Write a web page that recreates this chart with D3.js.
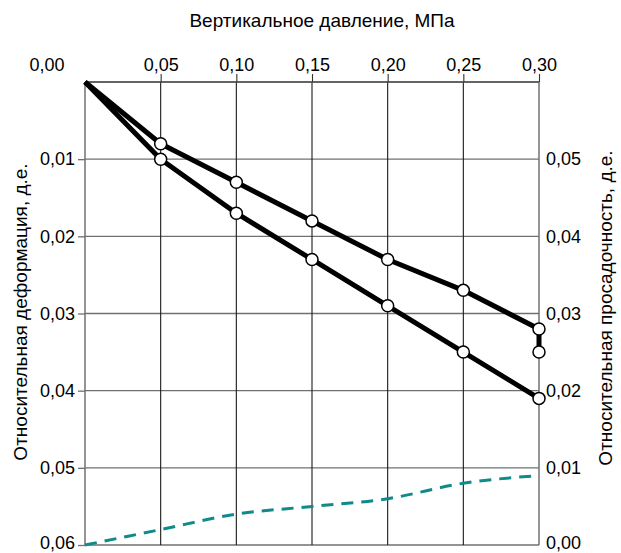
<!DOCTYPE html>
<html>
<head>
<meta charset="utf-8">
<script src="https://cdn.jsdelivr.net/npm/d3@7"></script>
<style>
  html, body { margin: 0; padding: 0; background: #fff; }
  svg { display: block; font-family: "Liberation Sans", Arial, sans-serif; }
</style>
</head>
<body>
<svg id="chart" width="621" height="553"></svg>
<script>
// Vertical pressure, MPa
const pressure = [0, 0.05, 0.10, 0.15, 0.20, 0.25, 0.30];
// Relative deformation at natural moisture (upper curve), then after soaking at 0.30
const deformNatural = [0, 0.008, 0.013, 0.018, 0.023, 0.027, 0.032];
const soakedAtEnd = 0.035;
// Relative deformation of soaked soil (lower curve)
const deformSoaked = [0, 0.010, 0.017, 0.023, 0.029, 0.035, 0.041];
// Relative subsidence (right axis)
const subsidence = [0, 0.002, 0.004, 0.005, 0.006, 0.008, 0.009];

const xTicks = [0.05, 0.10, 0.15, 0.20, 0.25, 0.30];
const leftTicks = [0.01, 0.02, 0.03, 0.04, 0.05, 0.06];
const rightTicks = [0.00, 0.01, 0.02, 0.03, 0.04, 0.05];

const m = { left: 85, right: 539, top: 82, bottom: 545 };
const tickFont = 18, titleFont = 19;
const svg = d3.select("#chart");

const x = d3.scaleLinear().domain([0, 0.30]).range([m.left, m.right]);
const yL = d3.scaleLinear().domain([0, 0.06]).range([m.top, m.bottom]);
const yR = d3.scaleLinear().domain([0, 0.06]).range([m.bottom, m.top]);
const fmt = v => d3.format(".2f")(v).replace(".", ",");

// Grid: horizontal (grey) and vertical (dark)
svg.append("g").selectAll("line")
  .data(d3.range(0, 7).map(i => i * 0.01))
  .join("line")
  .attr("x1", m.left).attr("x2", m.right)
  .attr("y1", d => yL(d)).attr("y2", d => yL(d))
  .attr("stroke", "#707070").attr("stroke-width", 1.3);

svg.append("g").selectAll("line")
  .data(xTicks.slice(0, -1))
  .join("line")
  .attr("x1", d => x(d)).attr("x2", d => x(d))
  .attr("y1", m.top).attr("y2", m.bottom)
  .attr("stroke", "#1a1a1a").attr("stroke-width", 1.1);

// Frame sides
svg.append("line").attr("x1", m.left).attr("x2", m.left)
  .attr("y1", m.top).attr("y2", m.bottom)
  .attr("stroke", "#707070").attr("stroke-width", 1.5);
svg.append("line").attr("x1", m.right).attr("x2", m.right)
  .attr("y1", m.top).attr("y2", m.bottom)
  .attr("stroke", "#707070").attr("stroke-width", 1.5);
svg.append("line").attr("x1", m.left).attr("x2", m.right)
  .attr("y1", m.top).attr("y2", m.top)
  .attr("stroke", "#555").attr("stroke-width", 1.3);

// Top axis
const topAxis = d3.axisTop(x).tickValues(xTicks).tickSize(8).tickSizeOuter(0).tickFormat(fmt);
const gTop = svg.append("g").attr("transform", `translate(0,${m.top})`).call(topAxis);
gTop.select(".domain").remove();
gTop.selectAll(".tick line").attr("stroke", "#333").attr("stroke-width", 1.1);
gTop.selectAll(".tick text").attr("fill", "#000").attr("font-size", tickFont)
  .attr("font-family", "'Liberation Sans', Arial, sans-serif");

// Left axis
const leftAxis = d3.axisLeft(yL).tickValues(leftTicks).tickSize(7).tickSizeOuter(0).tickFormat(fmt);
const gLeft = svg.append("g").attr("transform", `translate(${m.left},0)`).call(leftAxis);
gLeft.select(".domain").remove();
gLeft.selectAll(".tick line").attr("stroke", "#707070").attr("stroke-width", 1.3);
gLeft.selectAll(".tick text").attr("fill", "#000").attr("font-size", tickFont)
  .attr("font-family", "'Liberation Sans', Arial, sans-serif").attr("x", -10)
  .attr("dy", d => d === 0.06 ? "0.22em" : "0.32em");

// Corner label for zero
svg.append("text").attr("x", 47).attr("y", 71).attr("text-anchor", "middle")
  .attr("font-size", tickFont).text(fmt(0));

// Right axis
const rightAxis = d3.axisRight(yR).tickValues(rightTicks).tickSize(0).tickFormat(fmt);
const gRight = svg.append("g").attr("transform", `translate(${m.right},0)`).call(rightAxis);
gRight.select(".domain").remove();
gRight.selectAll(".tick text").attr("fill", "#000").attr("font-size", tickFont)
  .attr("font-family", "'Liberation Sans', Arial, sans-serif").attr("x", 7)
  .attr("dy", d => d === 0 ? "0.22em" : "0.32em");

// Titles
svg.append("text").attr("x", 322).attr("y", 27).attr("text-anchor", "middle")
  .attr("font-size", titleFont).text("Вертикальное давление, МПа");
svg.append("text").attr("transform", "translate(27,312) rotate(-90)")
  .attr("text-anchor", "middle").attr("font-size", titleFont)
  .text("Относительная деформация, д.е.");
svg.append("text").attr("transform", "translate(612,308) rotate(-90)")
  .attr("text-anchor", "middle").attr("font-size", titleFont)
  .text("Относительная просадочность, д.е.");

// Subsidence curve (dashed)
const lineR = d3.line().x((d, i) => x(pressure[i])).y(d => yR(d)).curve(d3.curveMonotoneX);
svg.append("path").datum(subsidence)
  .attr("d", lineR).attr("fill", "none")
  .attr("stroke", "#108a8a").attr("stroke-width", 3)
  .attr("stroke-dasharray", "12,8");

// Deformation curves
const upper = pressure.map((p, i) => [p, deformNatural[i]]).concat([[0.30, soakedAtEnd]]);
const lower = pressure.map((p, i) => [p, deformSoaked[i]]);
const lineL = d3.line().x(d => x(d[0])).y(d => yL(d[1]));

[upper, lower].forEach(data => {
  svg.append("path").datum(data).attr("d", lineL).attr("fill", "none")
    .attr("stroke", "#000").attr("stroke-width", 5).attr("stroke-linejoin", "round");
});

[upper, lower].forEach(data => {
  svg.append("g").selectAll("circle")
    .data(data.filter(d => d[0] > 0))
    .join("circle")
    .attr("cx", d => x(d[0])).attr("cy", d => yL(d[1])).attr("r", 6)
    .attr("fill", "#fff").attr("stroke", "#000").attr("stroke-width", 1.5);
});
</script>
</body>
</html>
